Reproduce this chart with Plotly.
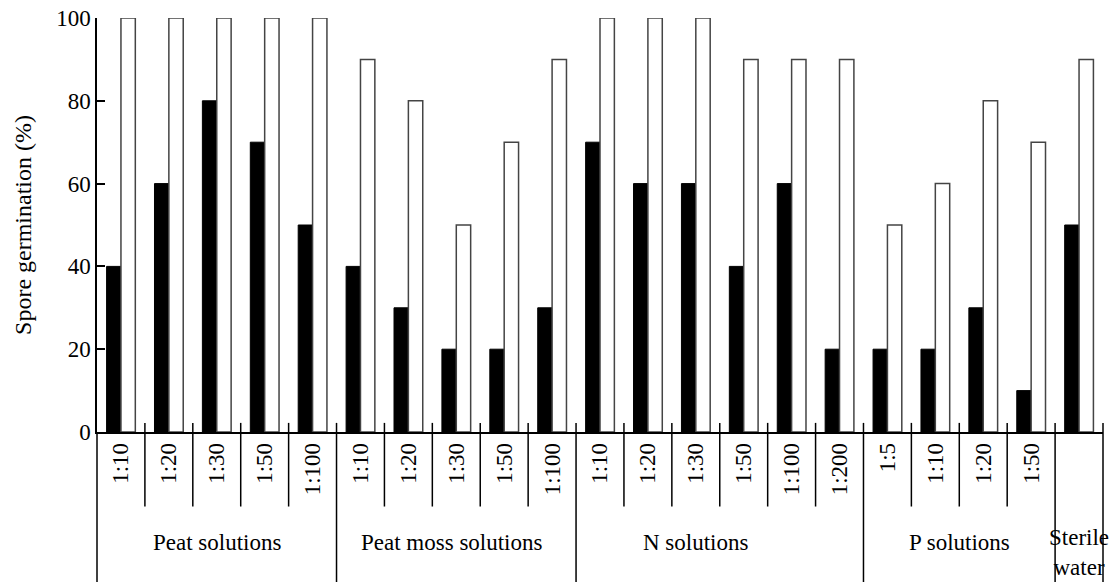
import plotly.graph_objects as go

# ---- data ----
ratio_labels = ["1:10", "1:20", "1:30", "1:50", "1:100",
                "1:10", "1:20", "1:30", "1:50", "1:100",
                "1:10", "1:20", "1:30", "1:50", "1:100", "1:200",
                "1:5", "1:10", "1:20", "1:50",
                ""]
group_names = ["Peat solutions", "Peat moss solutions", "N solutions", "P solutions", "Sterile<br>water"]
group_sizes = [5, 5, 6, 4, 1]
black_values = [40, 60, 80, 70, 50,
                40, 30, 20, 20, 30,
                70, 60, 60, 40, 60, 20,
                20, 20, 30, 10,
                50]
white_values = [100, 100, 100, 100, 100,
                90, 80, 50, 70, 90,
                100, 100, 100, 90, 90, 90,
                50, 60, 80, 70,
                90]
y_ticks = [0, 20, 40, 60, 80, 100]

FONT = "Liberation Serif, Times New Roman, serif"
n = len(ratio_labels)
xpos = list(range(n))
xmin, xmax = -0.5, n - 0.5

fig = go.Figure()
fig.add_trace(go.Bar(x=xpos, y=black_values, marker=dict(color="black", line=dict(color="black", width=1)),
                     showlegend=False))
fig.add_trace(go.Bar(x=xpos, y=white_values, marker=dict(color="white", line=dict(color="#444", width=1.5)),
                     showlegend=False))


def px(xv):
    return (xv - xmin) / (xmax - xmin)


shapes = []
annotations = []
bounds = [0]
for s in group_sizes:
    bounds.append(bounds[-1] + s)
group_bound_set = set(bounds)
Y_TOP = 0.022
Y_SHORT = -0.18
Y_BOTTOM = -0.40
for b in range(n + 1):
    xb = b - 0.5
    if b == 0:
        shapes.append(dict(type="line", xref="paper", yref="paper", x0=0, x1=0, y0=0, y1=Y_BOTTOM,
                           line=dict(color="black", width=1.5)))
    elif b in group_bound_set:
        shapes.append(dict(type="line", xref="paper", yref="paper", x0=px(xb), x1=px(xb), y0=Y_TOP, y1=Y_BOTTOM,
                           line=dict(color="black", width=1.5)))
    else:
        shapes.append(dict(type="line", xref="paper", yref="paper", x0=px(xb), x1=px(xb), y0=Y_TOP, y1=Y_SHORT,
                           line=dict(color="black", width=1.5)))

for gi, name in enumerate(group_names):
    start, end = bounds[gi], bounds[gi + 1]
    center = (start + end - 1) / 2
    xs = -24 if name == "N solutions" else (-4 if gi == 1 else 0)
    ys = 5 if gi == len(group_names) - 1 else 0
    annotations.append(dict(x=center, y=-0.232, xref="x", yref="paper", text=name, showarrow=False,
                            xanchor="center", yanchor="top", xshift=xs, yshift=ys,
                            font=dict(family=FONT, size=23, color="black")))

fig.update_layout(
    width=1109, height=582,
    margin=dict(l=97, r=6, t=18, b=150),
    paper_bgcolor="white", plot_bgcolor="white",
    barmode="group", bargap=0.4, bargroupgap=0,
    shapes=shapes, annotations=annotations,
    font=dict(family=FONT, size=23, color="black"),
)
fig.update_xaxes(range=[xmin, xmax], tickmode="array", tickvals=xpos, ticktext=ratio_labels,
                 tickangle=-90, ticks="", showline=True, linecolor="black", linewidth=1.5,
                 showgrid=False, zeroline=False, tickfont=dict(family=FONT, size=23, color="black"),
                 ticklabelstandoff=0)
fig.update_yaxes(range=[0, 100], tickvals=y_ticks, ticks="inside", ticklen=8, tickcolor="black", tickwidth=1.5,
                 showline=True, linecolor="black", linewidth=1.5, showgrid=False, zeroline=False,
                 tickfont=dict(family=FONT, size=23, color="black"),
                 title=dict(text="Spore germination (%)", standoff=18, font=dict(family=FONT, size=24, color="black")))

fig.write_html("out.html")
